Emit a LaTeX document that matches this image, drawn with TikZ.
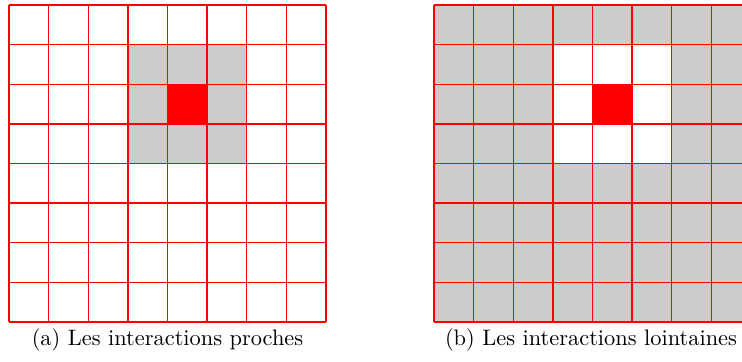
\documentclass[tikz,border=0pt]{standalone}
\begin{document}
\begin{tikzpicture}[x=0.4464pt,y=-0.4464pt,
  gridline/.style={draw=red,line width=0.65pt},
  caption/.style={font=\fontsize{10}{12}\selectfont,anchor=base}]
\useasboundingbox (0,0) rectangle (742,362);
\def\cs{39.625}
% left grid
\begin{scope}[shift={(9,5)}]
  \fill[black!20] (3*\cs,1*\cs) rectangle (6*\cs,4*\cs);
  \fill[red] (4*\cs,2*\cs) rectangle (5*\cs,3*\cs);
  \foreach \i in {0,...,8} {
    \draw[gridline] (\i*\cs,0) -- (\i*\cs,8*\cs);
    \draw[gridline] (0,\i*\cs) -- (8*\cs,\i*\cs);
  }
\end{scope}
% right grid
\begin{scope}[shift={(434,5)}]
  \fill[black!20] (0,0) rectangle (8*\cs,8*\cs);
  \fill[white] (3*\cs,1*\cs) rectangle (6*\cs,4*\cs);
  \fill[red] (4*\cs,2*\cs) rectangle (5*\cs,3*\cs);
  \foreach \i in {0,...,8} {
    \draw[gridline] (\i*\cs,0) -- (\i*\cs,8*\cs);
    \draw[gridline] (0,\i*\cs) -- (8*\cs,\i*\cs);
  }
\end{scope}
\node[caption] (capa) at (167.5,346) {(a) Les interactions proches};
\node[caption] (capb) at (591,346) {(b) Les interactions lointaines};
\end{tikzpicture}
\end{document}
